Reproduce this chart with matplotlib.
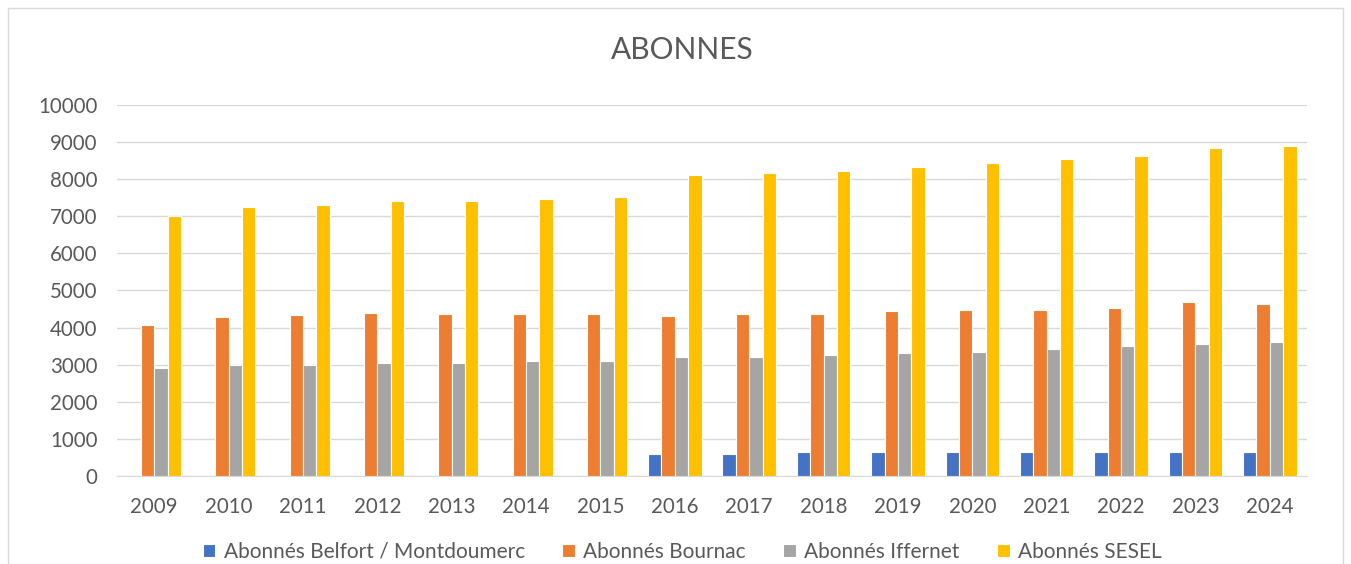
import matplotlib.pyplot as plt
import numpy as np
from matplotlib.patches import Rectangle

years = ["2009", "2010", "2011", "2012", "2013", "2014", "2015", "2016",
         "2017", "2018", "2019", "2020", "2021", "2022", "2023", "2024"]
belfort = [0, 0, 0, 0, 0, 0, 0, 590, 590, 640, 640, 640, 640, 640, 640, 640]
bournac = [4070, 4280, 4330, 4380, 4370, 4370, 4370, 4320, 4370, 4370,
           4440, 4485, 4485, 4540, 4690, 4635]
iffernet = [2900, 3000, 3000, 3050, 3040, 3095, 3095, 3200, 3200, 3255,
            3310, 3355, 3410, 3505, 3560, 3605]
sesel = [7000, 7260, 7310, 7400, 7400, 7460, 7510, 8115, 8170, 8225,
         8325, 8430, 8530, 8630, 8835, 8890]

series = [
    ("Abonnés Belfort / Montdoumerc", belfort, "#4472c4"),
    ("Abonnés Bournac", bournac, "#ed7d31"),
    ("Abonnés Iffernet", iffernet, "#a5a5a5"),
    ("Abonnés SESEL", sesel, "#ffc000"),
]

plt.rcParams['font.family'] = ['Lato', 'DejaVu Sans']
text_col = "#595959"

fig = plt.figure(figsize=(13.51, 5.64), dpi=100)
ax = fig.add_axes([0.0866, 0.156, 0.8808, 0.658])

x = np.arange(len(years))
w = 0.18
for i, (name, vals, col) in enumerate(series):
    ax.bar(x + (i - 1.5) * w, vals, width=w, color=col, edgecolor="white",
           linewidth=0.8, label=name, zorder=3)

ax.set_xlim(-0.5, len(years) - 0.5)
ax.set_ylim(0, 10000)
ax.set_yticks(range(0, 10001, 1000))
ax.set_xticks(x)
ax.set_xticklabels(years)
ax.grid(axis="y", color="#d9d9d9", linewidth=1, zorder=0)
for s in ["top", "right", "left"]:
    ax.spines[s].set_visible(False)
ax.spines["bottom"].set_color("#d9d9d9")
ax.tick_params(axis="both", length=0, labelsize=14.8, colors=text_col)
ax.tick_params(axis="x", pad=15)
ax.tick_params(axis="y", pad=14)

fig.text(0.505, 0.912, "ABONNES", ha="center", va="center",
         fontsize=21.5, color=text_col)

leg = fig.legend(loc="center", bbox_to_anchor=(0.505, 0.022), ncol=4,
                 frameon=False, fontsize=15, handlelength=0.6,
                 handleheight=0.6, columnspacing=1.8, handletextpad=0.4)
for t in leg.get_texts():
    t.set_color(text_col)

fig.patches.append(Rectangle((0.006, -0.01), 0.988, 0.995,
                             transform=fig.transFigure, fill=False,
                             edgecolor="#d9d9d9", linewidth=1))

fig.savefig("out.png", dpi=100)
